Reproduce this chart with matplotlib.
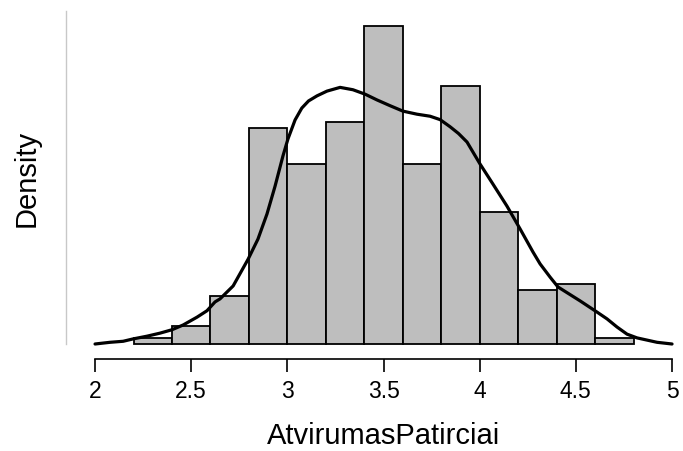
import matplotlib.pyplot as plt
import numpy as np

plt.rcParams['font.family'] = ['Liberation Sans', 'DejaVu Sans']

# histogram bins (width 0.2) and counts
bin_edges = [2.2, 2.4, 2.6, 2.8, 3.0, 3.2, 3.4, 3.6, 3.8, 4.0, 4.2, 4.4, 4.6, 4.8]
counts = [1, 3, 8, 36, 30, 37, 53, 30, 43, 22, 9, 10, 1]

# density curve, points
curve_x = [2.0, 2.078, 2.146, 2.198, 2.27, 2.338, 2.4, 2.458, 2.53, 2.582, 2.624, 2.65,
           2.718, 2.796, 2.847, 2.894, 2.936, 2.977, 3.003, 3.04, 3.075, 3.11, 3.154,
           3.206, 3.274, 3.341, 3.404, 3.466, 3.534, 3.601, 3.674, 3.742, 3.794, 3.846,
           3.89, 3.934, 4.002, 4.069, 4.142, 4.21, 4.277, 4.314, 4.366, 4.407, 4.522, 4.61,
           4.662, 4.714, 4.766, 4.818, 4.922, 5.0]
curve_y = [0.0, 0.005, 0.008, 0.015, 0.023, 0.032, 0.042, 0.056, 0.079, 0.098, 0.124, 0.133,
           0.171, 0.250, 0.309, 0.383, 0.465, 0.554, 0.604, 0.660, 0.695, 0.716, 0.731,
           0.745, 0.756, 0.749, 0.736, 0.719, 0.702, 0.686, 0.677, 0.671, 0.661, 0.640,
           0.620, 0.595, 0.530, 0.471, 0.406, 0.339, 0.271, 0.236, 0.197, 0.168, 0.127, 0.094,
           0.074, 0.050, 0.029, 0.018, 0.005, 0.0]

xticks = [2, 2.5, 3, 3.5, 4, 4.5, 5]
xtick_labels = ['2', '2.5', '3', '3.5', '4', '4.5', '5']

edges = np.array(bin_edges)
width = edges[1] - edges[0]
density = np.array(counts) / (sum(counts) * width)

W, H = 683, 452
fig = plt.figure(figsize=(W / 100, H / 100), dpi=100)
ax = fig.add_axes([66 / W, (H - 345) / H, (683 - 66) / W, 333 / H])

ax.bar(edges[:-1], density, width=width, align='edge', color='#bebebe',
       edgecolor='black', linewidth=1.3, clip_on=False)
ax.plot(curve_x, curve_y, color='black', linewidth=2.3, clip_on=False,
        solid_capstyle='round', solid_joinstyle='round')

ax.set_xlim(1.849, 5.057)
ax.set_ylim(0, 0.981)

for s in ['top', 'right']:
    ax.spines[s].set_visible(False)
ax.spines['left'].set_color('#c8c8c8')
ax.spines['left'].set_linewidth(1.0)
ax.spines['bottom'].set_position(('outward', 11))
ax.spines['bottom'].set_bounds(2, 5)
ax.spines['bottom'].set_linewidth(1.2)

ax.set_yticks([])
ax.set_xticks(xticks)
ax.set_xticklabels(xtick_labels, fontsize=16.5)
ax.tick_params(axis='x', length=9, width=1.2, pad=5)

fig.text(383.5 / W, 1 - 444 / H, 'AtvirumasPatirciai', fontsize=21,
         ha='center', va='baseline')
fig.text(27 / W, 1 - 178.5 / H, 'Density', fontsize=21, rotation=90,
         ha='center', va='center')

fig.savefig('out.png', dpi=100)
